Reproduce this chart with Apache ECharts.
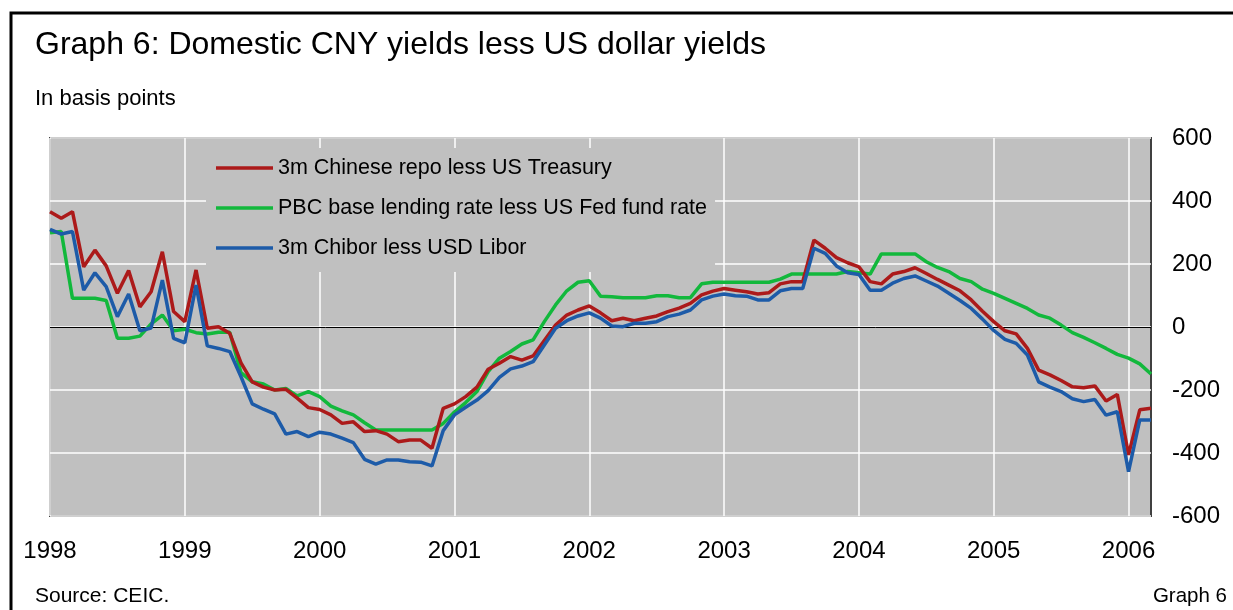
<!DOCTYPE html>
<html>
<head>
<meta charset="utf-8">
<script src="https://cdn.jsdelivr.net/npm/echarts@6/dist/echarts.min.js"></script>
<style>
html,body{margin:0;padding:0;background:#fff;}
#chart{width:1233px;height:610px;}
</style>
</head>
<body>
<div id="chart"></div>
<script>
// Monthly observations, Jan 1998 .. Mar 2006
var startYear = 1998;
var monthCount = 99;
var yearLabels = ['1998','1999','2000','2001','2002','2003','2004','2005','2006'];
var yTicks = [-600, -400, -200, 0, 200, 400, 600];

var seriesNames = [
  '3m Chinese repo less US Treasury',
  'PBC base lending rate less US Fed fund rate',
  '3m Chibor less USD Libor'
];

var repoLessTreasury = [
  366, 345, 366, 191, 244, 194, 107, 179, 64, 112, 239, 49,
  17, 181, -4, 1, -20, -114, -174, -191, -200, -198, -226, -256,
  -262, -279, -306, -301, -332, -329, -340, -364, -359, -359, -385, -258,
  -244, -221, -191, -134, -115, -94, -105, -92, -43, 6, 38, 54,
  67, 45, 20, 28, 20, 28, 35, 49, 60, 75, 102, 114,
  122, 117, 112, 105, 109, 137, 144, 144, 276, 250, 220, 204,
  191, 144, 137, 168, 176, 188, 170, 151, 133, 115, 86, 50,
  17, -12, -22, -68, -137, -152, -170, -190, -193, -187, -235, -214,
  -406, -263, -258
];

var pbcLessFed = [
  299, 303, 91, 91, 91, 84, -36, -36, -29, 10, 38, -12,
  -7, -18, -22, -17, -17, -145, -174, -181, -200, -195, -219, -205,
  -221, -251, -266, -279, -304, -327, -327, -327, -327, -327, -327, -306,
  -270, -240, -205, -142, -99, -78, -54, -41, 17, 70, 115, 142,
  147, 98, 96, 93, 93, 93, 99, 99, 93, 93, 137, 142,
  142, 142, 142, 142, 142, 152, 168, 168, 168, 168, 168, 176,
  172, 168, 232, 232, 232, 232, 207, 189, 176, 154, 144, 120,
  107, 91, 75, 59, 38, 28, 6, -18, -33, -50, -68, -87,
  -99, -117, -149
];

var chiborLessLibor = [
  310, 295, 303, 117, 172, 128, 33, 105, -12, -3, 149, -36,
  -50, 133, -60, -68, -78, -158, -244, -261, -276, -340, -332, -348,
  -334, -340, -353, -367, -420, -435, -422, -422, -428, -429, -441, -329,
  -279, -255, -232, -202, -160, -133, -124, -110, -57, -4, 20, 35,
  45, 28, 3, 1, 12, 12, 17, 33, 41, 54, 86, 98,
  105, 99, 98, 86, 86, 115, 122, 122, 250, 234, 194, 172,
  167, 117, 117, 139, 154, 162, 146, 130, 107, 84, 59, 25,
  -11, -39, -52, -89, -174, -191, -205, -228, -237, -230, -280, -269,
  -459, -295, -295
];

var months = [];
for (var i = 0; i < monthCount; i++) {
  var y = startYear + Math.floor(i / 12);
  var m = (i % 12) + 1;
  months.push(y + '-' + (m < 10 ? '0' + m : m));
}

var FONT = "'Liberation Sans', Arial, sans-serif";
var colors = ['#AC1A1A', '#12B83C', '#1D5BA8'];

var chart = echarts.init(document.getElementById('chart'), null, {renderer: 'canvas'});

function isJan(idx) { return idx % 12 === 0; }

var option = {
  animation: false,
  backgroundColor: '#ffffff',
  color: colors,
  title: [
    {text: 'Graph 6: Domestic CNY yields less US dollar yields', left: 35, top: 29, padding: 0,
     textStyle: {fontFamily: FONT, fontSize: 32, fontWeight: 'normal', color: '#000'}},
    {text: 'In basis points', left: 35, top: 88, padding: 0,
     textStyle: {fontFamily: FONT, fontSize: 22, fontWeight: 'normal', color: '#000'}},
    {text: 'Source: CEIC.', left: 35, top: 586, padding: 0,
     textStyle: {fontFamily: FONT, fontSize: 21, fontWeight: 'normal', color: '#000'}},
    {text: 'Graph 6', right: 6, top: 586, padding: 0,
     textStyle: {fontFamily: FONT, fontSize: 20.5, fontWeight: 'normal', color: '#000'}}
  ],
  graphic: [
    {type: 'polyline', z: 100, silent: true,
     shape: {points: [[11, 612], [11, 13], [1235, 13]]},
     style: {stroke: '#000', lineWidth: 3, fill: null}}
  ],
  legend: {
    left: 206, top: 148,
    orient: 'vertical',
    backgroundColor: '#C0C0C0',
    padding: [9, 8, 13, 10],
    icon: 'rect',
    itemWidth: 57, itemHeight: 3.5, itemGap: 18,
    textStyle: {fontFamily: FONT, fontSize: 21.5, color: '#000', lineHeight: 20},
    data: seriesNames
  },
  grid: {
    left: 50, right: 82, top: 138, bottom: 94,
    show: true, backgroundColor: '#C0C0C0', borderColor: '#404040', borderWidth: 2
  },
  xAxis: {
    type: 'category',
    data: months,
    boundaryGap: false,
    axisLine: {show: false},
    axisTick: {show: false},
    axisLabel: {
      interval: function (idx) { return isJan(idx); },
      formatter: function (v) { return v.slice(0, 4); },
      fontFamily: FONT, fontSize: 24, color: '#000', margin: 23
    },
    splitLine: {show: true, interval: function (idx) { return isJan(idx); },
      lineStyle: {color: '#ffffff', width: 1.5}}
  },
  yAxis: {
    type: 'value',
    position: 'right',
    min: yTicks[0], max: yTicks[yTicks.length - 1], interval: 200,
    axisLine: {show: false},
    axisTick: {show: false},
    axisLabel: {fontFamily: FONT, fontSize: 24, color: '#000', margin: 21, align: 'left'},
    splitLine: {show: true, lineStyle: {color: '#ffffff', width: 1.5}}
  },
  series: [
    {name: seriesNames[0], type: 'line', data: repoLessTreasury, symbol: 'none', z: 4,
     lineStyle: {width: 3.5, color: colors[0]}, itemStyle: {color: colors[0]},
     markLine: {silent: true, symbol: 'none', label: {show: false}, z: 3,
       lineStyle: {color: '#000', width: 1, type: 'solid'}, data: [{yAxis: 0}]}},
    {name: seriesNames[1], type: 'line', data: pbcLessFed, symbol: 'none', z: 3,
     lineStyle: {width: 3.5, color: colors[1]}, itemStyle: {color: colors[1]}},
    {name: seriesNames[2], type: 'line', data: chiborLessLibor, symbol: 'none', z: 5,
     lineStyle: {width: 3.5, color: colors[2]}, itemStyle: {color: colors[2]}}
  ]
};
chart.setOption(option);
</script>
</body>
</html>
